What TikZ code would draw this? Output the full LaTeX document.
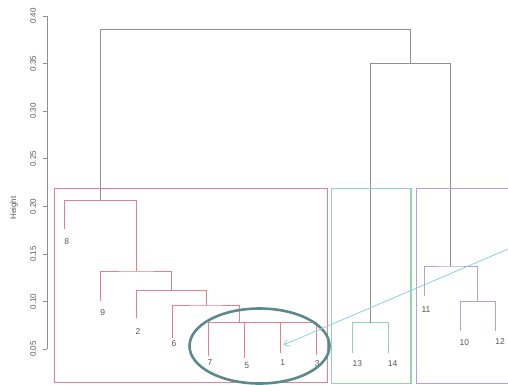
\documentclass[tikz,border=0pt]{standalone}
\usepackage{fontspec}
\setmainfont{Liberation Sans}
\usetikzlibrary{arrows.meta,shapes.geometric}
\definecolor{grayline}{HTML}{909090}
\definecolor{redline}{HTML}{E4808F}
\definecolor{greenline}{HTML}{93D5AE}
\definecolor{purpleline}{HTML}{B7A0D8}
\definecolor{ellcol}{HTML}{5B8A8C}
\definecolor{arrcol}{HTML}{8CCFDC}
\definecolor{txtcol}{HTML}{555555}
\tikzset{
  tree/.style={line width=0.9pt, line cap=rect},
  clusterbox/.style={line width=1.3pt},
  leaflabel/.style={font=\fontsize{8.5}{9}\selectfont, text=txtcol, inner sep=0pt},
  axislabel/.style={font=\fontsize{8}{9}\selectfont, text=txtcol, inner sep=0pt, rotate=90},
}
\begin{document}
\begin{tikzpicture}[x=1pt,y=-1pt]
\useasboundingbox (0,0) rectangle (508,385);
\clip (0,0) rectangle (508,385);
% axis
\coordinate (atop) at (47,16);
\coordinate (abot) at (47,349.2);
\draw[grayline, line width=0.9pt] (atop) -- (abot);
\foreach \v/\y in {0.40/16,0.35/63.6,0.30/111.2,0.25/158.8,0.20/206.4,0.15/254,0.10/301.6,0.05/349.2}{
  \draw[grayline, line width=0.9pt] (43,\y) -- (47,\y);
  \node[axislabel] at (33,\y) {\v};
}
\node[axislabel] (hlab) at (14,208) {Height};
% leaves
\coordinate (L8) at (64,229);
\coordinate (L9) at (100.7,300.7);
\coordinate (L2) at (136.7,318);
\coordinate (L6) at (172.7,338);
\coordinate (L7) at (208,356);
\coordinate (L5) at (244.3,358);
\coordinate (L1) at (280.7,353);
\coordinate (L3) at (316.7,355);
\coordinate (L13) at (352.3,352.7);
\coordinate (L14) at (388.3,352.7);
\coordinate (L11) at (424,296);
\coordinate (L10) at (460,330.7);
\coordinate (L12) at (495.3,330.7);
% merges
\coordinate (m5) at (239.3,322.7);
\coordinate (m4) at (206,305);
\coordinate (m3) at (171,290.7);
\coordinate (m2) at (136.7,271);
\coordinate (m1) at (100.3,200.7);
\coordinate (g1) at (370,322.7);
\coordinate (p2) at (477.3,301.7);
\coordinate (p1) at (450.7,266);
\coordinate (R) at (410,63.3);
\coordinate (root) at (255,29.5);
% red cluster
\draw[redline, tree] (L7) |- (m5) -| (L3);
\draw[redline, tree] (L5) -- (L5|-m5);
\draw[redline, tree] (L1) -- (L1|-m5);
\draw[redline, tree] (L6) |- (m4) -| (m5);
\draw[redline, tree] (L2) |- (m3) -| (m4);
\draw[redline, tree] (L9) |- (m2) -| (m3);
\draw[redline, tree] (L8) |- (m1) -| (m2);
% green cluster
\draw[greenline, tree] (L13) |- (g1) -| (L14);
% purple cluster
\draw[purpleline, tree] (L10) |- (p2) -| (L12);
\draw[purpleline, tree] (L11) |- (p1) -| (p2);
% upper tree
\draw[grayline, tree] (g1) |- (R) -| (p1);
\draw[grayline, tree] (m1) |- (root) -| (R);
% leaf labels
\node[leaflabel] (t8) at (66.7,242) {8};
\node[leaflabel] (t9) at (102.7,312.7) {9};
\node[leaflabel] (t2) at (138,332) {2};
\node[leaflabel] (t6) at (174,344) {6};
\node[leaflabel] (t7) at (210,362.7) {7};
\node[leaflabel] (t5) at (246.7,365.3) {5};
\node[leaflabel] (t1) at (282.7,363) {1};
\node[leaflabel] (t3) at (317.3,363.3) {3};
\node[leaflabel] (t13) at (357.3,363.7) {13};
\node[leaflabel] (t14) at (392.7,363.7) {14};
\node[leaflabel] (t11) at (426,309.3) {11};
\node[leaflabel] (t10) at (464.3,342.7) {10};
\node[leaflabel] (t12) at (500,341.7) {12};
% cluster boxes
\draw[redline, clusterbox] (54.3,188.3) rectangle (327.3,382.7);
\draw[greenline, clusterbox] (331.7,188.3) rectangle (411,383.3);
\draw[purpleline, clusterbox] (416.7,188.3) rectangle (520,383.3);
% highlight ellipse and arrow
\node[draw=ellcol, line width=2.6pt, ellipse, minimum width=140pt, minimum height=75pt, inner sep=0pt] (ell) at (259.5,346) {};
\coordinate (afrom) at (520,243.9);
\coordinate (ato) at (283.3,345);
\draw[arrcol, line width=0.8pt, -{Straight Barb[length=5pt,width=7pt]}] (afrom) -- (ato);
\end{tikzpicture}
\end{document}
